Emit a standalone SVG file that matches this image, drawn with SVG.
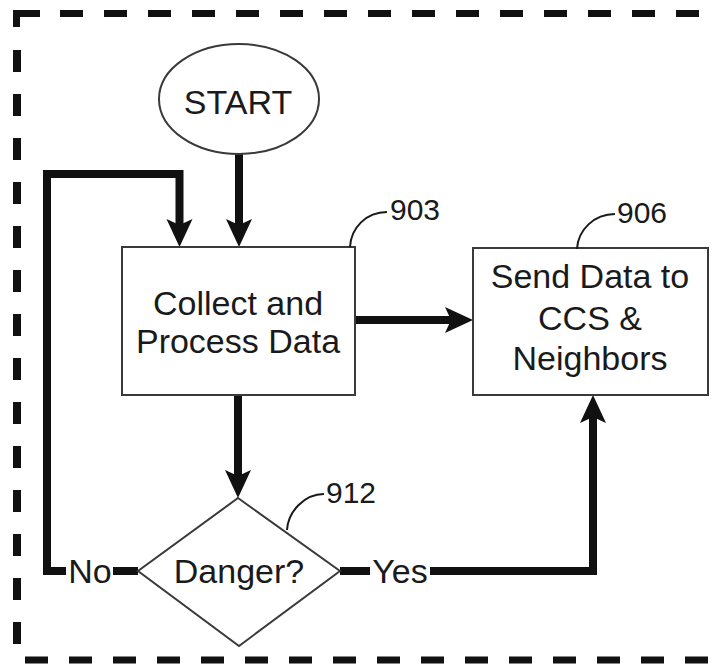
<svg xmlns="http://www.w3.org/2000/svg" width="714" height="664" viewBox="0 0 714 664">
  <style>
    .txt { font-family: "Liberation Sans", Arial, sans-serif; font-size: 34px; fill: #1a1a1a; text-anchor: middle; }
    .ref { font-family: "Liberation Sans", Arial, sans-serif; font-size: 30px; fill: #1a1a1a; }
    .shape { fill: #ffffff; stroke: #3a3a3a; stroke-width: 2; }
    .conn { fill: none; stroke: #111111; stroke-width: 8; stroke-linejoin: miter; }
    .lead { fill: none; stroke: #1a1a1a; stroke-width: 2; }
    .bord { fill: none; stroke: #111111; }
  </style>
  <defs>
    <marker id="arrow" viewBox="0 0 28 28" markerWidth="28" markerHeight="28" markerUnits="userSpaceOnUse" refX="14" refY="14" orient="auto">
      <path d="M0,1 L28,14 L0,27 L6,14 Z" fill="#111111"/>
    </marker>
  </defs>

  <g id="border">
    <path class="bord" d="M13 13.5 H40 M16.5 10 V27" stroke-width="7"/>
    <path class="bord" d="M60 13.5 H714" stroke-width="7" stroke-dasharray="23 21"/>
    <path class="bord" d="M17 50 V655" stroke-width="8" stroke-dasharray="22 22"/>
    <path class="bord" d="M25 660 H714" stroke-width="7" stroke-dasharray="23 21"/>
  </g>

  <g id="connectors">
    <path class="conn" d="M239 153 V233" marker-end="url(#arrow)"/>
    <path class="conn" d="M66 571 H47 V174 H179.5 V233" marker-end="url(#arrow)"/>
    <path class="conn" d="M113 571 H138"/>
    <path class="conn" d="M355 320 H459" marker-end="url(#arrow)"/>
    <path class="conn" d="M238 395 H238 V484" marker-end="url(#arrow)"/>
    <path class="conn" d="M340 571 H370"/>
    <path class="conn" d="M430 571 H593 V409" marker-end="url(#arrow)"/>
    <text class="txt" x="90" y="583">No</text>
    <text class="txt" x="400" y="583">Yes</text>
  </g>

  <g id="start">
    <ellipse class="shape" cx="239" cy="99" rx="80" ry="55" stroke="#555" stroke-width="1.5"/>
    <text class="txt" x="238" y="114">START</text>
  </g>

  <g id="node903">
    <rect class="shape" x="122" y="247" width="233" height="148"/>
    <text class="txt" x="238" y="315">Collect and</text>
    <text class="txt" x="238" y="353">Process Data</text>
    <path class="lead" d="M350 247 C351 228 366 212 387 212"/>
    <text class="ref" x="390" y="220">903</text>
  </g>

  <g id="node906">
    <rect class="shape" x="473" y="248" width="235" height="147"/>
    <text class="txt" x="590" y="288">Send Data to</text>
    <text class="txt" x="590" y="330">CCS &amp;</text>
    <text class="txt" x="590" y="370">Neighbors</text>
    <path class="lead" d="M577 249 C578 230 594 214 615 214"/>
    <text class="ref" x="617" y="223">906</text>
  </g>

  <g id="node912">
    <polygon class="shape" points="238,498 340,571 239,646 138,571"/>
    <text class="txt" x="239" y="583">Danger?</text>
    <path class="lead" d="M287 530 C288 512 304 494 324 494"/>
    <text class="ref" x="326" y="503">912</text>
  </g>
</svg>
